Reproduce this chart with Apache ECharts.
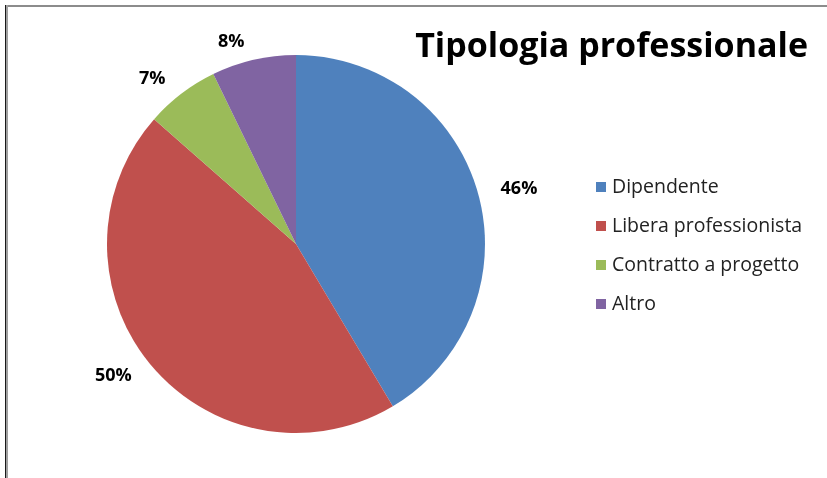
<!DOCTYPE html>
<html lang="it">
<head>
    <meta charset="utf-8"/>
    <title>Tipologia professionale</title>
    <script src="https://cdn.jsdelivr.net/npm/echarts@6/dist/echarts.min.js"></script>
    <style>
        html, body { margin: 0; padding: 0; background: #fff; }
        #wrap { position: relative; width: 827px; height: 478px; overflow: hidden; }
        #main { position: absolute; left: 0; top: 0; width: 827px; height: 478px; }
        .top-line { position: absolute; left: 5px; top: 5px; width: 822px; height: 2px; background: #8c8c8c; }
        .left-line { position: absolute; left: 5px; top: 5px; width: 1px; height: 473px; background: #1a1a1a;
                     border-right: 2px solid #a0a0a0; }
    </style>
</head>
<body>
<div id="wrap">
    <div id="main"></div>
    <div class="top-line"></div>
    <div class="left-line"></div>
</div>
<script>
    var categories = ['Dipendente', 'Libera professionista', 'Contratto a progetto', 'Altro'];
    var values = [46, 50, 7, 8];
    var colors = ['#4F81BD', '#C0504D', '#9BBB59', '#8064A2'];

    var chartDom = document.getElementById('main');
    var myChart = echarts.init(chartDom);
    var option;

    option = {
        animation: false,
        title: {
            text: 'Tipologia professionale',
            right: 14,
            top: 25,
            textStyle: {
                fontFamily: 'Open Sans',
                fontWeight: 'bold',
                fontSize: 34,
                color: '#000'
            }
        },
        legend: {
            orient: 'vertical',
            left: 591,
            top: 172,
            itemWidth: 10,
            itemHeight: 10,
            itemGap: 19,
            icon: 'rect',
            textStyle: {
                fontFamily: 'Open Sans',
                fontSize: 19.5,
                color: '#222',
                padding: [0, 0, 0, 1]
            },
            data: categories
        },
        series: [
            {
                type: 'pie',
                center: [296, 244],
                radius: 189,
                startAngle: 90,
                clockwise: true,
                label: {
                    show: true,
                    position: 'outside',
                    formatter: '{c}%',
                    fontFamily: 'Open Sans',
                    fontWeight: 'bold',
                    fontSize: 18,
                    color: '#000'
                },
                labelLine: {
                    show: false,
                    length: 18,
                    length2: 0
                },
                itemStyle: {
                    borderWidth: 0
                },
                data: categories.map(function (name, i) {
                    return {name: name, value: values[i], itemStyle: {color: colors[i]}};
                })
            }
        ]
    };
    option && myChart.setOption(option);
</script>
</body>
</html>
